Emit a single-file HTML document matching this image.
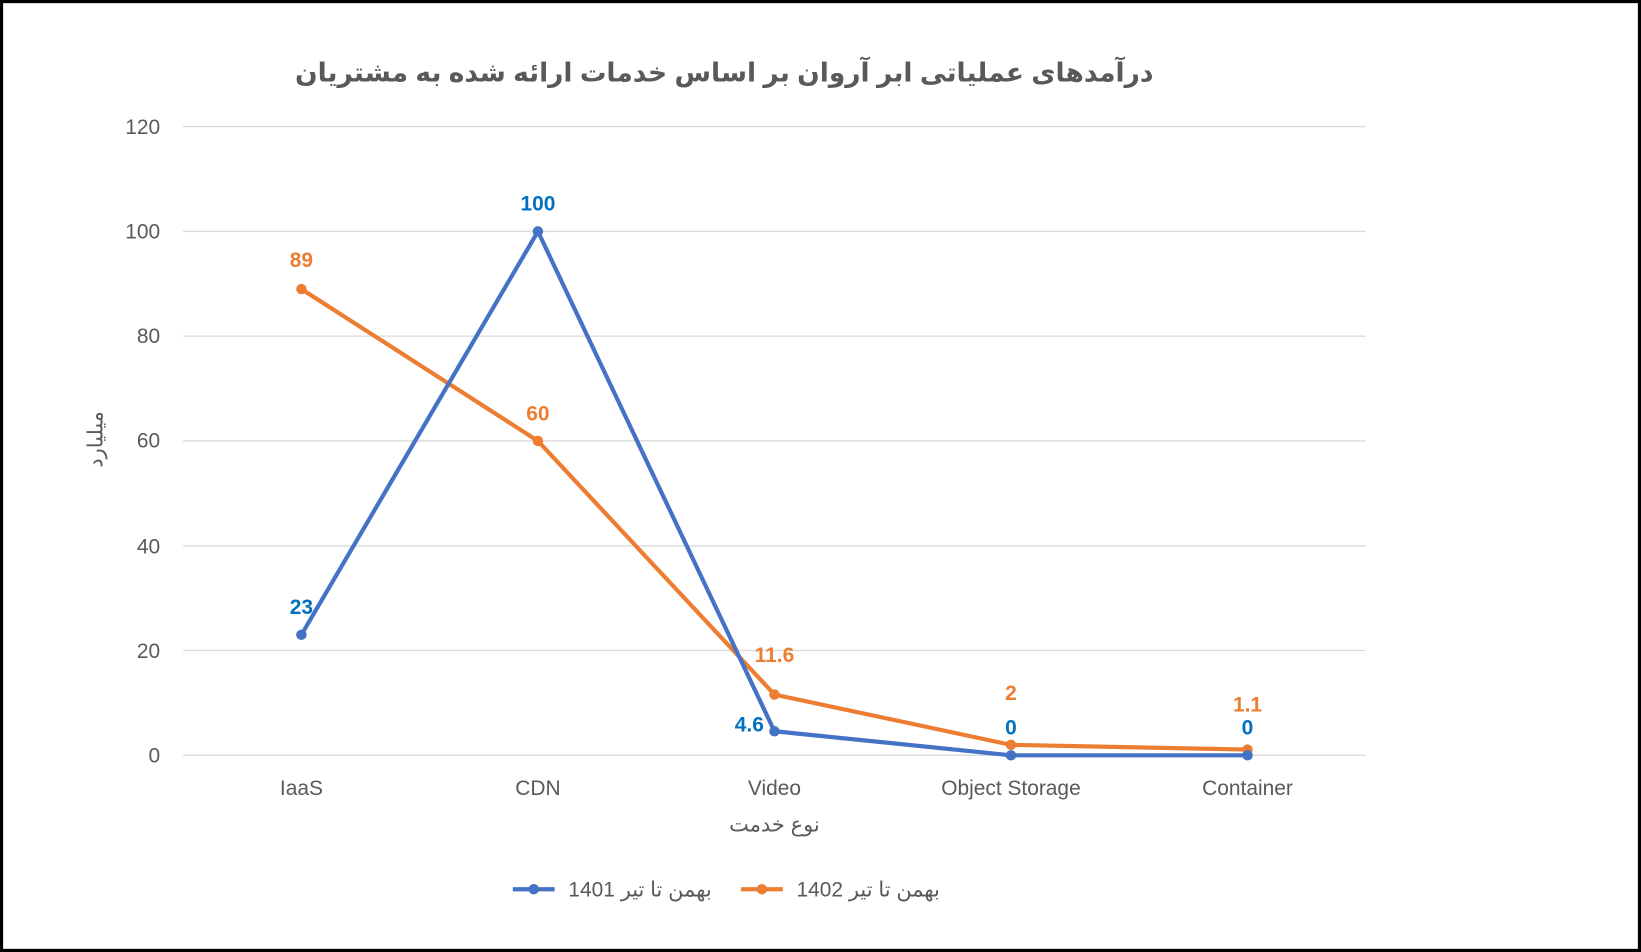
<!DOCTYPE html>
<html><head><meta charset="utf-8"><style>
html,body{margin:0;padding:0;background:#fff;}
svg{display:block;}
text{font-family:"Liberation Sans","DejaVu Sans",sans-serif;}
</style></head><body>
<svg width="1641" height="952" viewBox="0 0 1568 910" preserveAspectRatio="none" xmlns="http://www.w3.org/2000/svg">
<rect x="1.5" y="1.5" width="1565" height="907" fill="#fff" stroke="#000" stroke-width="3"/>
<text x="692" y="78" text-anchor="middle" font-size="25.3" font-weight="bold" fill="#595959" direction="rtl">درآمدهای عملیاتی ابر آروان بر اساس خدمات ارائه شده به مشتریان</text>
<g stroke="#d9d9d9" stroke-width="1.3">
<line x1="175" x2="1305" y1="121" y2="121"/>
<line x1="175" x2="1305" y1="221.2" y2="221.2"/>
<line x1="175" x2="1305" y1="321.3" y2="321.3"/>
<line x1="175" x2="1305" y1="421.5" y2="421.5"/>
<line x1="175" x2="1305" y1="521.7" y2="521.7"/>
<line x1="175" x2="1305" y1="621.8" y2="621.8"/>
<line x1="175" x2="1305" y1="722" y2="722"/>
</g>
<g font-size="20" fill="#595959" text-anchor="end">
<text x="153" y="128">120</text>
<text x="153" y="228">100</text>
<text x="153" y="328">80</text>
<text x="153" y="428">60</text>
<text x="153" y="529">40</text>
<text x="153" y="629">20</text>
<text x="153" y="729">0</text>
</g>
<g font-size="20" fill="#595959" text-anchor="middle">
<text x="288" y="760">IaaS</text>
<text x="514" y="760">CDN</text>
<text x="740" y="760">Video</text>
<text x="966" y="760">Object Storage</text>
<text x="1192" y="760">Container</text>
</g>
<text x="740" y="795" text-anchor="middle" font-size="20" fill="#595959" direction="rtl">نوع خدمت</text>
<text transform="translate(98,420) rotate(-90)" text-anchor="middle" font-size="20" fill="#595959" direction="rtl">میلیارد</text>
<polyline points="288,276.3 514,421.5 740,663.9 966,712 1192,716.5" fill="none" stroke="#ED7D31" stroke-width="4" stroke-linejoin="round"/>
<polyline points="288,606.8 514,221.2 740,699 966,722 1192,722" fill="none" stroke="#4472C4" stroke-width="4" stroke-linejoin="round"/>
<g fill="#ED7D31"><circle cx="288" cy="276.3" r="5"/><circle cx="514" cy="421.5" r="5"/><circle cx="740" cy="663.9" r="5"/><circle cx="966" cy="712" r="5"/><circle cx="1192" cy="716.5" r="5"/></g>
<g fill="#4472C4"><circle cx="288" cy="606.8" r="5"/><circle cx="514" cy="221.2" r="5"/><circle cx="740" cy="699" r="5"/><circle cx="966" cy="722" r="5"/><circle cx="1192" cy="722" r="5"/></g>
<g font-size="20" font-weight="bold" fill="#0070C0" text-anchor="middle">
<text x="288" y="587">23</text>
<text x="514" y="201">100</text>
<text x="716" y="699">4.6</text>
<text x="966" y="702">0</text>
<text x="1192" y="702">0</text>
</g>
<g font-size="20" font-weight="bold" fill="#ED7D31" text-anchor="middle">
<text x="288" y="255">89</text>
<text x="514" y="402">60</text>
<text x="740" y="633">11.6</text>
<text x="966" y="669">2</text>
<text x="1192" y="680">1.1</text>
</g>
<line x1="490" x2="530" y1="850" y2="850" stroke="#4472C4" stroke-width="4"/>
<circle cx="510" cy="850" r="5" fill="#4472C4"/>
<text x="680" y="857" text-anchor="end" font-size="20" fill="#595959">بهمن تا تیر 1401</text>
<line x1="708" x2="748" y1="850" y2="850" stroke="#ED7D31" stroke-width="4"/>
<circle cx="728" cy="850" r="5" fill="#ED7D31"/>
<text x="898" y="857" text-anchor="end" font-size="20" fill="#595959">بهمن تا تیر 1402</text>
</svg>
</body></html>
